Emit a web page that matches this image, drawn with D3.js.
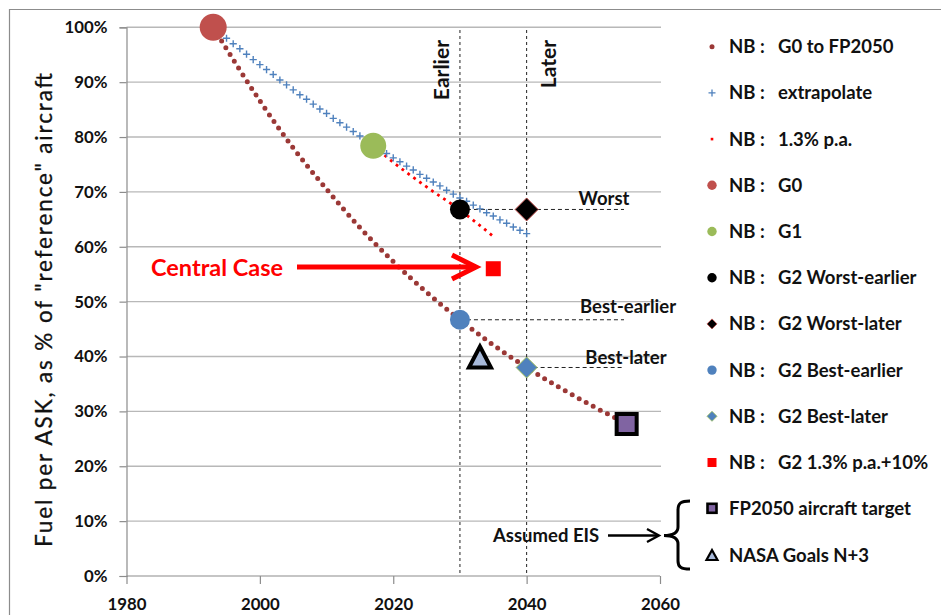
<!DOCTYPE html>
<html><head><meta charset="utf-8">
<script src="https://cdn.jsdelivr.net/npm/d3@7"></script>
<style>
html,body{margin:0;padding:0;background:#fff;}
svg text{font-family:Lato,"Open Sans",sans-serif;}
</style></head>
<body><svg id="c" width="941" height="615"></svg>
<script>
// ---- data (fraction of reference aircraft fuel per ASK) ----
const xTicks = [1980, 2000, 2020, 2040, 2060];
const yTicks = [0, 0.1, 0.2, 0.3, 0.4, 0.5, 0.6, 0.7, 0.8, 0.9, 1.0];

const trajYears = [1993, 2000, 2005, 2010, 2015, 2020, 2025, 2030, 2035, 2040, 2045, 2050, 2055];
const trajValues = [1.000, 0.866, 0.780, 0.705, 0.635, 0.573, 0.517, 0.467, 0.421, 0.380, 0.343, 0.309, 0.278];

const extrapYears = [1993,1994,1995,1996,1997,1998,1999,2000,2001,2002,2003,2004,2005,2006,2007,2008,2009,2010,2011,2012,2013,2014,2015,2016,2017,2018,2019,2020,2021,2022,2023,2024,2025,2026,2027,2028,2029,2030,2031,2032,2033,2034,2035,2036,2037,2038,2039,2040];
const extrapValues = [1.000,0.990,0.980,0.970,0.961,0.951,0.941,0.932,0.923,0.914,0.904,0.895,0.886,0.877,0.869,0.860,0.851,0.843,0.834,0.826,0.818,0.810,0.802,0.794,0.786,0.778,0.770,0.762,0.755,0.747,0.740,0.732,0.725,0.718,0.711,0.703,0.696,0.689,0.683,0.676,0.669,0.662,0.656,0.649,0.643,0.636,0.630,0.624];

const paYears = [2017, 2020, 2025, 2030, 2035];
const paValues = [0.784, 0.754, 0.709, 0.667, 0.619];

const pointNames  = ["G0", "G1", "G2 Worst-earlier", "G2 Worst-later", "G2 Best-earlier", "G2 Best-later", "G2 1.3% p.a.+10%", "FP2050 aircraft target", "NASA Goals N+3"];
const pointYears  = [1993, 2017, 2030, 2040, 2030, 2040, 2035, 2055, 2033];
const pointValues = [1.000, 0.784, 0.668, 0.668, 0.467, 0.380, 0.560, 0.277, 0.400];

const legendLabels = ["G0 to FP2050", "extrapolate", "1.3% p.a.", "G0", "G1", "G2 Worst-earlier", "G2 Worst-later", "G2 Best-earlier", "G2 Best-later", "G2 1.3% p.a.+10%"];
const legendExtra = ["FP2050 aircraft target", "NASA Goals N+3"];

// ---- setup ----
const svg = d3.select("#c");
const x = d3.scaleLinear().domain([1980, 2060]).range([126.5, 660]);
const y = d3.scaleLinear().domain([0, 1]).range([576, 27.3]);
const fmtPct = d3.format(".0%");
const LF = 18.5; // label font size

// outer frame (top & left visible)
svg.append("line").attr("x1",9).attr("x2",941).attr("y1",9.5).attr("y2",9.5).attr("stroke","#8c8c8c").attr("stroke-width",1.2);
svg.append("line").attr("x1",9.5).attr("x2",9.5).attr("y1",9).attr("y2",615).attr("stroke","#8c8c8c").attr("stroke-width",1.2);

// gridlines
svg.append("g").selectAll("line").data(yTicks.filter(d=>d>0)).join("line")
  .attr("x1", x(1980)).attr("x2", x(2060)+1)
  .attr("y1", d=>y(d)).attr("y2", d=>y(d))
  .attr("stroke","#b8b8b8").attr("stroke-width",1.4);

// axes
const yAxis = d3.axisLeft(y).tickValues(yTicks).tickFormat(fmtPct).tickSize(7).tickPadding(12);
const gy = svg.append("g").attr("transform",`translate(${x(1980)},0)`).call(yAxis);
const xAxis = d3.axisBottom(x).tickValues(xTicks).tickFormat(d3.format("d")).tickSize(8).tickPadding(12);
const gx = svg.append("g").attr("transform",`translate(0,${y(0)})`).call(xAxis);
[gx, gy].forEach(g=>{
  g.select(".domain").attr("stroke","#8c8c8c").attr("stroke-width",1.2);
  g.selectAll(".tick line").attr("stroke","#8c8c8c").attr("stroke-width",1.2);
  g.selectAll(".tick text").attr("font-family","Lato, sans-serif").attr("font-size",16.8).attr("font-weight","bold").attr("fill","#111");
});
gx.select(".domain").attr("d", `M${x(1980)},0H${x(2060)}`);
gx.selectAll(".tick text").attr("dy","0.85em");

// y axis title
svg.append("text")
  .attr("transform",`translate(52,310) rotate(-90)`)
  .attr("text-anchor","middle").attr("font-size",22.5).attr("fill","#111")
  .attr("stroke","#111").attr("stroke-width",0.3)
  .attr("textLength",474).attr("lengthAdjust","spacing")
  .text('Fuel  per  ASK,  as  %  of  "reference"  aircraft');

// vertical dashed lines
svg.append("g").selectAll("line").data([2030, 2040]).join("line")
  .attr("x1",d=>x(d)).attr("x2",d=>x(d)).attr("y1",30).attr("y2",y(0))
  .attr("stroke","#222").attr("stroke-width",1).attr("stroke-dasharray","3,3");
svg.append("text").attr("transform",`translate(${x(2030)-11},40) rotate(-90)`)
  .attr("text-anchor","end").attr("font-size",21).attr("font-weight","bold").attr("fill","#111").text("Earlier");
svg.append("text").attr("transform",`translate(${x(2040)+29},40) rotate(-90)`)
  .attr("text-anchor","end").attr("font-size",21).attr("font-weight","bold").attr("fill","#111").text("Later");

// horizontal dashed leader lines + labels
const leaders = [
  {from:[2030,0.668], label:"Worst", lx:604, ly:205},
  {from:[2030,0.467], label:"Best-earlier", lx:628, ly:313},
  {from:[2040,0.380], label:"Best-later", lx:626, ly:364}
];
svg.append("g").selectAll("line").data(leaders).join("line")
  .attr("x1",d=>x(d.from[0])).attr("x2",x(2054.6))
  .attr("y1",d=>y(d.from[1])).attr("y2",d=>y(d.from[1]))
  .attr("stroke","#222").attr("stroke-width",1).attr("stroke-dasharray","4,3");
svg.append("g").selectAll("text").data(leaders).join("text")
  .attr("x",d=>d.lx).attr("y",d=>d.ly).attr("text-anchor","middle")
  .attr("font-size",LF).attr("font-weight","bold").attr("fill","#111").text(d=>d.label);

// lines
const line = d3.line().x(d=>x(d[0])).y(d=>y(d[1])).curve(d3.curveMonotoneX);
svg.append("path").attr("d", line(d3.zip(trajYears, trajValues)))
  .attr("fill","none").attr("stroke","#9b3836").attr("stroke-width",5)
  .attr("stroke-linecap","round").attr("stroke-dasharray","0 8");
svg.append("path").attr("d", line(d3.zip(paYears, paValues)))
  .attr("fill","none").attr("stroke","#ff0000").attr("stroke-width",2.8)
  .attr("stroke-dasharray","2.8 4.5");
svg.append("g").selectAll("path").data(d3.zip(extrapYears, extrapValues)).join("path")
  .attr("transform",d=>`translate(${x(d[0])},${y(d[1])})`)
  .attr("d","M-3.6,0H3.6M0,-3.6V3.6")
  .attr("stroke","#4f81bd").attr("stroke-width",1.4).attr("fill","none");

// points
const P = pointNames.map((n,i)=>({name:n, px:x(pointYears[i]), py:y(pointValues[i])}));
const g = svg.append("g");
function circ(p,r,fill){ g.append("circle").attr("cx",p.px).attr("cy",p.py).attr("r",r).attr("fill",fill); }
function diamond(p,h,fill,stroke){ g.append("path").attr("d",`M${p.px},${p.py-h}L${p.px+h},${p.py}L${p.px},${p.py+h}L${p.px-h},${p.py}Z`).attr("fill",fill).attr("stroke",stroke).attr("stroke-width",1); }
circ(P[0],13.5,"#c0504d");
circ(P[1],13,"#9bbb59");
circ(P[2],10,"#000");
diamond(P[3],11.5,"#000","#c0504d");
circ(P[4],10,"#4f81bd");
diamond(P[5],10.5,"#4f81bd","#9bbb59");
g.append("rect").attr("x",P[6].px-7.5).attr("y",P[6].py-7.5).attr("width",15).attr("height",15).attr("fill","#ff0000");
g.append("rect").attr("x",P[7].px-10).attr("y",P[7].py-10).attr("width",20).attr("height",20).attr("fill","#8064a2").attr("stroke","#000").attr("stroke-width",4);
g.append("path").attr("d",`M${P[8].px},${P[8].py-10}L${P[8].px+11},${P[8].py+11}L${P[8].px-11},${P[8].py+11}Z`)
  .attr("fill","#a7b9d9").attr("stroke","#000").attr("stroke-width",4).attr("stroke-linejoin","miter");

// Central Case annotation
svg.append("text").attr("x",151).attr("y",276).attr("font-size",23.5).attr("font-weight","bold").attr("fill","#ff0000").text("Central Case");
svg.append("path").attr("d","M297,267H476").attr("stroke","#ff0000").attr("stroke-width",5).attr("fill","none");
svg.append("path").attr("d","M452,255L476,267L452,279").attr("stroke","#ff0000").attr("stroke-width",5).attr("fill","none").attr("stroke-linejoin","miter");

// Assumed EIS + arrow + brace
svg.append("text").attr("x",493).attr("y",542).attr("font-size",LF).attr("font-weight","bold").attr("fill","#111").text("Assumed EIS");
svg.append("path").attr("d","M608,535.5H658").attr("stroke","#000").attr("stroke-width",2.3);
svg.append("path").attr("d","M647,529L659,535.5L647,542").attr("stroke","#000").attr("stroke-width",2.3).attr("fill","none");
svg.append("path").attr("d","M690,501 C681,501 678,503 678,510 V527 C678,533 673,535.5 664,535.5 C673,535.5 678,538 678,544 V561 C678,567 681,569 690,569")
  .attr("fill","none").attr("stroke","#000").attr("stroke-width",3);

// legend
const lg = svg.append("g");
const rowY = i => 46.7 + i*46.2;
legendLabels.forEach((lab,i)=>{
  const yy = rowY(i);
  lg.append("text").attr("x",729).attr("y",yy+6.5).attr("font-size",LF).attr("font-weight","bold").attr("fill","#111").text("NB :");
  lg.append("text").attr("x",778).attr("y",yy+6.5).attr("font-size",LF).attr("font-weight","bold").attr("fill","#111").text(lab);
});
const mx = 712;
lg.append("circle").attr("cx",mx).attr("cy",rowY(0)).attr("r",2.5).attr("fill","#9b3836");
lg.append("path").attr("d",`M${mx-3.5},${rowY(1)}H${mx+3.5}M${mx},${rowY(1)-3.5}V${rowY(1)+3.5}`).attr("stroke","#4f81bd").attr("stroke-width",1.3);
lg.append("rect").attr("x",mx-1.3).attr("y",rowY(2)-1.3).attr("width",2.6).attr("height",2.6).attr("fill","#ff0000");
lg.append("circle").attr("cx",mx).attr("cy",rowY(3)).attr("r",4.7).attr("fill","#c0504d");
lg.append("circle").attr("cx",mx).attr("cy",rowY(4)).attr("r",4.7).attr("fill","#9bbb59");
lg.append("circle").attr("cx",mx).attr("cy",rowY(5)).attr("r",4.7).attr("fill","#000");
lg.append("path").attr("d",`M${mx},${rowY(6)-5}L${mx+5},${rowY(6)}L${mx},${rowY(6)+5}L${mx-5},${rowY(6)}Z`).attr("fill","#000").attr("stroke","#c0504d").attr("stroke-width",0.8);
lg.append("circle").attr("cx",mx).attr("cy",rowY(7)).attr("r",4.7).attr("fill","#4f81bd");
lg.append("path").attr("d",`M${mx},${rowY(8)-5}L${mx+5},${rowY(8)}L${mx},${rowY(8)+5}L${mx-5},${rowY(8)}Z`).attr("fill","#4f81bd").attr("stroke","#9bbb59").attr("stroke-width",0.8);
lg.append("rect").attr("x",mx-4.5).attr("y",rowY(9)-4.5).attr("width",9).attr("height",9).attr("fill","#ff0000");
const ey = [508.3, 555];
lg.append("rect").attr("x",mx-4.5).attr("y",ey[0]-4.5).attr("width",9).attr("height",9).attr("fill","#8064a2").attr("stroke","#000").attr("stroke-width",2.6);
lg.append("path").attr("d",`M${mx},${ey[1]-5}L${mx+5.5},${ey[1]+5}L${mx-5.5},${ey[1]+5}Z`).attr("fill","#a7b9d9").attr("stroke","#000").attr("stroke-width",2.2);
legendExtra.forEach((lab,i)=>{
  lg.append("text").attr("x",729).attr("y",ey[i]+6.5).attr("font-size",LF).attr("font-weight","bold").attr("fill","#111").text(lab);
});
</script></body></html>
